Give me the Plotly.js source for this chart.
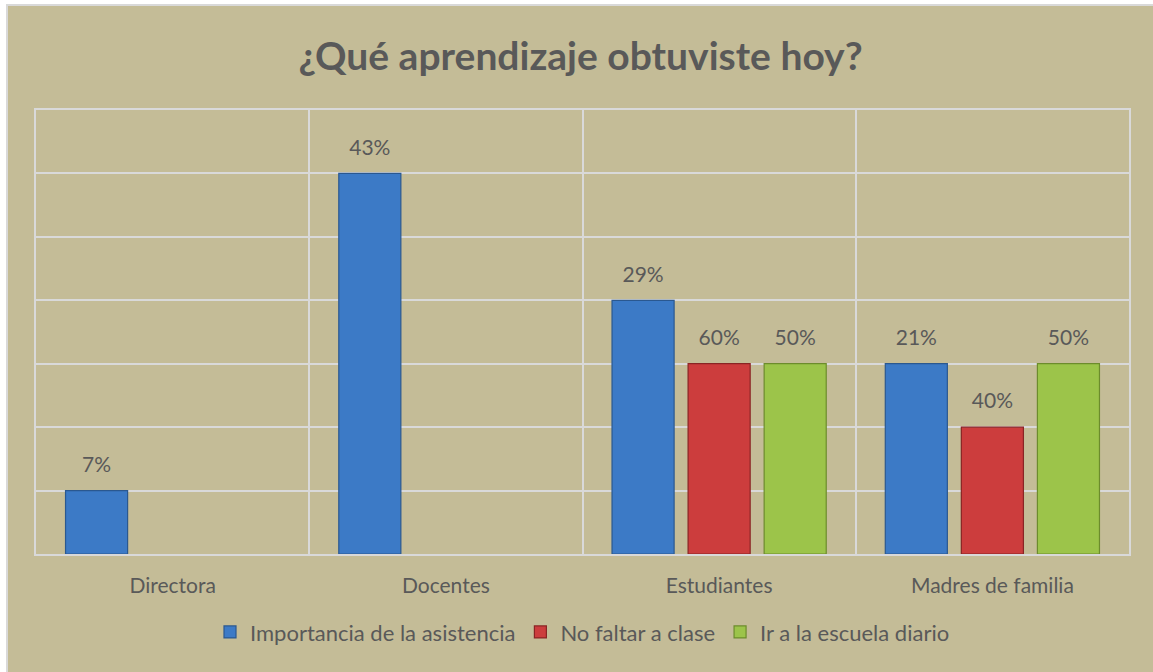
<!DOCTYPE html>
<html>
<head>
<meta charset="utf-8">
<script src="https://cdn.plot.ly/plotly-3.0.1.min.js"></script>
<style>
html,body{margin:0;padding:0;background:#ffffff;width:1153px;height:672px;overflow:hidden;}
#wrap{position:absolute;left:6px;top:4px;border-left:2px solid #D9D9D9;border-top:2px solid #D9D9D9;background:#C4BC97;}
#chart{width:1145px;height:666px;}
</style>
</head>
<body>
<div id="wrap"><div id="chart"></div></div>
<script>
var categories = ["Directora", "Docentes", "Estudiantes", "Madres de familia"];
var seriesNames = ["Importancia de la asistencia", "No faltar a clase", "Ir a la escuela diario"];
var importancia = [1, 6, 4, 3];
var importanciaLabels = ["7%", "43%", "29%", "21%"];
var noFaltar = [null, null, 3, 2];
var noFaltarLabels = ["", "", "60%", "40%"];
var irEscuela = [null, null, 3, 3];
var irEscuelaLabels = ["", "", "50%", "50%"];

var fills = ["#3C7AC6", "#CC3D3D", "#9CC44A"];
var edges = ["#2A5890", "#8A2424", "#6C8C2C"];
var values = [importancia, noFaltar, irEscuela];
var labels = [importanciaLabels, noFaltarLabels, irEscuelaLabels];
var fontFam = "Lato, 'Open Sans', sans-serif";
var txtColor = "#595959";

var traces = [];
for (var i = 0; i < 3; i++) {
  traces.push({
    type: "bar",
    name: seriesNames[i],
    x: categories,
    y: values[i],
    marker: {color: fills[i], line: {color: edges[i], width: 1.2}},
    hoverinfo: "skip"
  });
}
for (var k = 0; k < 3; k++) {
  traces.push({
    type: "scatter",
    mode: "markers+text",
    x: categories,
    y: values[k],
    text: labels[k],
    textposition: "top center",
    textfont: {family: fontFam, size: 21, color: txtColor},
    marker: {size: 20, color: "rgba(0,0,0,0)"},
    showlegend: false,
    hoverinfo: "skip",
    cliponaxis: false
  });
}

var layout = {
  width: 1145,
  height: 666,
  paper_bgcolor: "#C4BC97",
  plot_bgcolor: "rgba(0,0,0,0)",
  margin: {l: 28, r: 24, t: 104, b: 118},
  barmode: "group",
  bargap: 0.165,
  bargroupgap: 0.184,
  scattermode: "group",
  scattergap: 0.165,
  font: {family: fontFam, color: txtColor},
  title: {
    text: "<b>¿Qué aprendizaje obtuviste hoy?</b>",
    font: {family: fontFam, size: 39, color: txtColor},
    x: 0.5, xanchor: "center",
    y: 0.925, yanchor: "middle", yref: "container"
  },
  xaxis: {
    type: "category",
    tickson: "boundaries",
    showgrid: true,
    gridcolor: "#D9D9D9",
    gridwidth: 2,
    showline: true,
    mirror: true,
    linecolor: "#D9D9D9",
    linewidth: 2,
    ticks: "",
    ticklabelstandoff: 12,
    tickfont: {family: fontFam, size: 21, color: txtColor},
    fixedrange: true
  },
  yaxis: {
    range: [0, 7],
    dtick: 1,
    showgrid: true,
    gridcolor: "#D9D9D9",
    gridwidth: 2,
    zeroline: false,
    showline: true,
    mirror: true,
    linecolor: "#D9D9D9",
    linewidth: 2,
    showticklabels: false,
    ticks: "",
    fixedrange: true
  },
  legend: {
    orientation: "h",
    x: 0.5, xanchor: "center",
    y: -0.176, yanchor: "middle",
    font: {family: fontFam, size: 22, color: txtColor},
    itemwidth: 30,
    traceorder: "normal"
  },
  showlegend: true
};

Plotly.newPlot("chart", traces, layout, {displayModeBar: false, staticPlot: true});
</script>
</body>
</html>
